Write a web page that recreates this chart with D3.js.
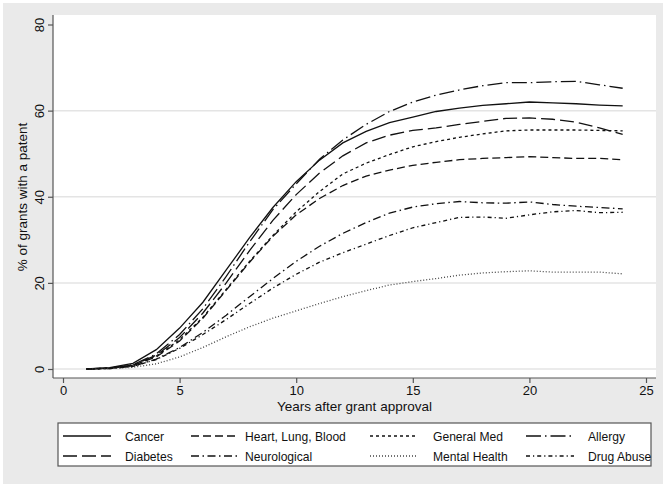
<!DOCTYPE html>
<html>
<head>
<meta charset="utf-8">
<script src="https://cdn.jsdelivr.net/npm/d3@7"></script>
<style>
  html, body { margin: 0; padding: 0; background: #ffffff; }
  svg { display: block; }
  text { font-family: "Liberation Sans", Arial, Helvetica, sans-serif; fill: #111; }
</style>
</head>
<body>
<svg id="chart" width="666" height="487"></svg>
<script>
// ---------- data ----------
const years = [1,2,3,4,5,6,7,8,9,10,11,12,13,14,15,16,17,18,19,20,21,22,23,24];

const cancer       = [0,0.3,1.3,4.5,9.5,15.5,23,30.5,37.5,43.5,48.5,52.5,55.2,57.2,58.5,59.8,60.6,61.2,61.6,62,61.8,61.6,61.3,61.1];
const heartLung    = [0,0.2,0.8,2.8,6.5,11.8,18.3,24.8,30.8,35.8,39.6,42.6,44.8,46.2,47.3,48,48.6,48.9,49.1,49.3,49.1,48.9,48.9,48.6];
const generalMed   = [0,0.2,0.8,3,6.8,12,18.5,25,31,36.5,41.2,45.3,47.8,49.8,51.6,52.8,53.8,54.6,55.3,55.5,55.5,55.5,55.4,55.3];
const allergy      = [0,0.2,1.0,3.5,8,14,21.5,29.5,37,43,48.7,53.2,56.8,59.8,62,63.6,64.8,65.8,66.5,66.5,66.7,66.8,66,65.2];
const diabetes     = [0,0.2,0.9,3.2,7.3,13,20,27.5,34.5,40.5,45.5,49.5,52.5,54.3,55.4,56,56.8,57.5,58.2,58.3,58,57.3,56,54.5];
const neurological = [0,0.1,0.6,2.3,5,8.5,12.5,16.8,21,25,28.5,31.5,34,36.2,37.6,38.4,38.9,38.6,38.5,38.8,38.2,37.8,37.5,37.2];
const mentalHealth = [0,0.1,0.4,1.2,2.8,5,7.5,9.8,11.8,13.5,15.2,16.8,18.2,19.5,20.3,21,21.8,22.3,22.6,22.8,22.5,22.5,22.5,22.1];
const drugAbuse    = [0,0.1,0.6,2.2,4.8,8,11.5,15.2,18.8,22,24.8,27,29,31,32.8,34,35.2,35.3,35,35.8,36.5,36.8,36.3,36.4];

const seriesNames = ["Cancer","Heart, Lung, Blood","General Med","Allergy","Diabetes","Neurological","Mental Health","Drug Abuse"];
const seriesValues = [cancer, heartLung, generalMed, allergy, diabetes, neurological, mentalHealth, drugAbuse];

const xTicks = [0,5,10,15,20,25];
const yTicks = [0,20,40,60,80];

const xTitle = "Years after grant approval";
const yTitle = "% of grants with a patent";

// ---------- styles ----------
const dashes = {
  "Cancer": null,
  "Heart, Lung, Blood": "8,4",
  "General Med": "3,3",
  "Allergy": "15,4,1.5,4",
  "Diabetes": "14,5",
  "Neurological": "8,3.5,1.5,3.5",
  "Mental Health": "1,2",
  "Drug Abuse": "4,3,1.2,3"
};
const strokes = {
  "Mental Health": "#444"
};

// ---------- layout ----------
const svg = d3.select("#chart");
const W = 666, H = 487;

svg.append("rect").attr("x", 0).attr("y", 0).attr("width", W).attr("height", H).attr("fill", "#ffffff");
svg.append("rect").attr("x", 3).attr("y", 3).attr("width", 660).attr("height", 481).attr("fill", "#eaeaea");

const plot = {left: 53, right: 656, top: 15, bottom: 378};

const x = d3.scaleLinear().domain([0, 25]).range([63, 646]);
const y = d3.scaleLinear().domain([0, 80]).range([369, 24.5]);

svg.append("rect")
  .attr("x", plot.left).attr("y", plot.top)
  .attr("width", plot.right - plot.left).attr("height", plot.bottom - plot.top)
  .attr("fill", "#ffffff");

// gridlines
svg.append("g").selectAll("line").data(yTicks.filter(d => d < 80)).join("line")
  .attr("x1", plot.left).attr("x2", plot.right)
  .attr("y1", d => y(d)).attr("y2", d => y(d))
  .attr("stroke", "#e4e4e4").attr("stroke-width", 1.5);

// axes
const yAxis = d3.axisLeft(y).tickValues(yTicks).tickSize(5).tickPadding(4).tickFormat(d3.format("d"));
const gy = svg.append("g").attr("transform", `translate(${plot.left},0)`).call(yAxis);
gy.select(".domain").attr("d", `M0,${plot.top}V${plot.bottom}`).attr("stroke", "#555").attr("stroke-width", 1.2);
gy.selectAll(".tick line").attr("stroke", "#555").attr("stroke-width", 1.2);
gy.selectAll(".tick text")
  .attr("font-size", 13).attr("fill", "#111")
  .attr("x", null).attr("dy", null)
  .attr("text-anchor", "middle")
  .attr("transform", "translate(-9.5,0) rotate(-90)")
  .attr("y", 0);

const xAxis = d3.axisBottom(x).tickValues(xTicks).tickSize(5).tickPadding(3).tickFormat(d3.format("d"));
const gx = svg.append("g").attr("transform", `translate(0,${plot.bottom})`).call(xAxis);
gx.select(".domain").attr("d", `M${plot.left},0H${plot.right}`).attr("stroke", "#555").attr("stroke-width", 1.2);
gx.selectAll(".tick line").attr("stroke", "#555").attr("stroke-width", 1.2);
gx.selectAll(".tick text").attr("font-size", 13).attr("fill", "#111");

svg.append("text")
  .attr("x", (plot.left + plot.right) / 2).attr("y", 411)
  .attr("text-anchor", "middle").attr("font-size", 13.5)
  .text(xTitle);

svg.append("text")
  .attr("transform", `translate(27,197) rotate(-90)`)
  .attr("text-anchor", "middle").attr("font-size", 13.5)
  .text(yTitle);

// lines
const line = d3.line().x((d, i) => x(years[i])).y(d => y(d));
const gLines = svg.append("g");
seriesNames.forEach((name, k) => {
  gLines.append("path")
    .datum(seriesValues[k])
    .attr("d", line)
    .attr("fill", "none")
    .attr("stroke", strokes[name] || "#111")
    .attr("stroke-width", 1.3)
    .attr("stroke-dasharray", dashes[name]);
});

// legend
const leg = {x: 58, y: 423, w: 593, h: 43};
svg.append("rect")
  .attr("x", leg.x).attr("y", leg.y).attr("width", leg.w).attr("height", leg.h)
  .attr("fill", "#ffffff").attr("stroke", "#555").attr("stroke-width", 1.2);

const colLineX = [63, 191, 370, 526];
const colTextX = [125, 245, 433, 588];
const rowY = [436, 456];
seriesNames.forEach((name, i) => {
  const c = i % 4, r = Math.floor(i / 4);
  const g = svg.append("g");
  g.append("line")
    .attr("x1", colLineX[c]).attr("x2", colLineX[c] + 48)
    .attr("y1", rowY[r]).attr("y2", rowY[r])
    .attr("stroke", strokes[name] || "#111").attr("stroke-width", 1.3)
    .attr("stroke-dasharray", dashes[name]);
  g.append("text")
    .attr("x", colTextX[c]).attr("y", rowY[r] + 4.5)
    .attr("font-size", 12.1)
    .text(name);
});
</script>
</body>
</html>
